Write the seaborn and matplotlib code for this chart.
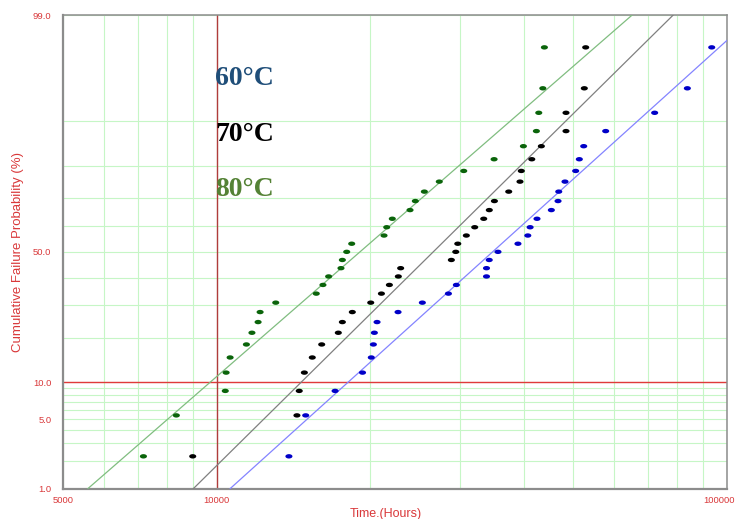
import math
import numpy as np
import pandas as pd
import matplotlib
matplotlib.use("Agg")
import matplotlib.pyplot as plt
import matplotlib.transforms as mtransforms
from matplotlib.path import Path
from matplotlib.ticker import FixedLocator, FixedFormatter, NullFormatter
import seaborn as sns

# ---------------- data ----------------
rank_pct = [2.23, 5.41, 8.60, 11.78, 14.97, 18.15, 21.34, 24.52, 27.71, 30.89,
            34.08, 37.26, 40.45, 43.63, 46.82, 50.00, 53.18, 56.37, 59.55, 62.74,
            65.92, 69.11, 72.29, 75.48, 78.66, 81.85, 85.03, 88.22, 91.40, 94.59,
            97.77]

hours_60c = [13850, 14940, 17060, 19310, 20090, 20280, 20370, 20620, 22670, 25300,
             28460, 29500, 33800, 33800, 34220, 35600, 38960, 40730, 41160, 42460,
             45300, 46690, 46840, 48180, 50560, 51400, 52430, 57900, 72230, 83720,
             93460]
hours_70c = [8970, 14360, 14510, 14850, 15390, 16060, 17310, 17630, 18440, 20040,
             21030, 21800, 22700, 22940, 28840, 29420, 29690, 30860, 32050, 33380,
             34230, 35030, 37370, 39320, 39550, 41470, 43300, 48400, 48400, 52570,
             52900]
hours_80c = [7180, 8330, 10390, 10430, 10620, 11430, 11720, 12050, 12160, 13050,
             15670, 16150, 16570, 17520, 17630, 17980, 18390, 21280, 21540, 22090,
             23930, 24510, 25530, 27310, 30500, 34980, 39930, 42340, 42800, 43590,
             43900]

fit_pct = [1.0, 99.0]
fit_60c = [10617, 113700]
fit_70c = [8993, 78550]
fit_80c = [5585, 65260]

series_names = ["60°C", "70°C", "80°C"]

y_major = [1, 5, 10, 50, 99]
y_major_labels = ["1.0", "5.0", "10.0", "50.0", "99.0"]
y_minor = [2, 3, 4, 6, 7, 8, 9, 20, 30, 40, 60, 70, 80, 90]
x_major = [5000, 10000, 100000]
x_major_labels = ["5000", "10000", "100000"]
x_minor = [6000, 7000, 8000, 9000, 20000, 30000, 40000, 50000,
           60000, 70000, 80000, 90000]

# ---------------- normal probability scale ----------------
_erf = np.vectorize(math.erf)

_a = [-3.969683028665376e+01, 2.209460984245205e+02, -2.759285104469687e+02,
      1.383577518672690e+02, -3.066479806614716e+01, 2.506628277459239e+00]
_b = [-5.447609879822406e+01, 1.615858368580409e+02, -1.556989798598866e+02,
      6.680131188771972e+01, -1.328068155288572e+01]
_c = [-7.784894002430293e-03, -3.223964580411365e-01, -2.400758277161838e+00,
      -2.549732539343734e+00, 4.374664141464968e+00, 2.938163982698783e+00]
_d = [7.784695709041462e-03, 3.224671290700398e-01, 2.445134137142996e+00,
      3.754408661907416e+00]


def _ppf(p):
    p = np.clip(np.asarray(p, dtype=float), 1e-12, 1 - 1e-12)
    plow = 0.02425
    out = np.empty_like(p)
    lo = p < plow
    hi = p > 1 - plow
    mid = ~(lo | hi)
    if np.any(lo):
        q = np.sqrt(-2 * np.log(p[lo]))
        out[lo] = (((((_c[0]*q+_c[1])*q+_c[2])*q+_c[3])*q+_c[4])*q+_c[5]) / \
                  ((((_d[0]*q+_d[1])*q+_d[2])*q+_d[3])*q+1)
    if np.any(hi):
        q = np.sqrt(-2 * np.log(1 - p[hi]))
        out[hi] = -(((((_c[0]*q+_c[1])*q+_c[2])*q+_c[3])*q+_c[4])*q+_c[5]) / \
                  ((((_d[0]*q+_d[1])*q+_d[2])*q+_d[3])*q+1)
    if np.any(mid):
        q = p[mid] - 0.5
        r = q * q
        out[mid] = (((((_a[0]*r+_a[1])*r+_a[2])*r+_a[3])*r+_a[4])*r+_a[5])*q / \
                   (((((_b[0]*r+_b[1])*r+_b[2])*r+_b[3])*r+_b[4])*r+1)
    return out


def fwd(y):
    return _ppf(np.asarray(y, dtype=float) / 100.0)


def inv(z):
    z = np.asarray(z, dtype=float)
    return 50.0 * (1.0 + _erf(z / math.sqrt(2.0)))


# ---------------- frames ----------------
pts = pd.DataFrame({
    "hours": hours_60c + hours_70c + hours_80c,
    "pct": rank_pct * 3,
    "series": [series_names[0]] * len(hours_60c) + [series_names[1]] * len(hours_70c)
              + [series_names[2]] * len(hours_80c),
})
fits = pd.DataFrame({
    "hours": fit_60c + fit_70c + fit_80c,
    "pct": fit_pct * 3,
    "series": [series_names[0]] * 2 + [series_names[1]] * 2 + [series_names[2]] * 2,
})

point_pal = {"60°C": "#0000c8", "70°C": "#000000", "80°C": "#0a640a"}
line_pal = {"60°C": "#8484ff", "70°C": "#808080", "80°C": "#80bd80"}
text_col = {"60°C": "#1f4e79", "70°C": "#000000", "80°C": "#548235"}

# ---------------- figure ----------------
sns.set_style("white")
plt.rcParams["font.family"] = ["Liberation Sans", "DejaVu Sans"]

W, H = 736, 519
fig = plt.figure(figsize=(W / 100, H / 100), dpi=100)
L, R, T, B = 63.3, 726.7, 15.0, 488.7
ax = fig.add_axes([L / W, 1 - B / H, (R - L) / W, (B - T) / H])

ax.set_xscale("log")
ax.set_yscale("function", functions=(fwd, inv))

theta = np.linspace(0, 2 * np.pi, 41)
ellipse = Path(np.column_stack([np.cos(theta), 0.62 * np.sin(theta)]), closed=True)

sns.lineplot(data=fits, x="hours", y="pct", hue="series", palette=line_pal,
             estimator=None, sort=False, linewidth=0.9, legend=False, ax=ax, zorder=3)
sns.scatterplot(data=pts, x="hours", y="pct", hue="series", palette=point_pal,
                marker=ellipse, s=26, linewidth=0, legend=False, ax=ax, zorder=5)

ax.set_xlim(5000, 100000)
ax.set_ylim(1, 99)

red = "#d9383a"
ax.xaxis.set_major_locator(FixedLocator(x_major))
ax.xaxis.set_major_formatter(FixedFormatter(x_major_labels))
ax.xaxis.set_minor_locator(FixedLocator(x_minor))
ax.xaxis.set_minor_formatter(NullFormatter())
ax.yaxis.set_major_locator(FixedLocator(y_major))
ax.yaxis.set_major_formatter(FixedFormatter(y_major_labels))
ax.yaxis.set_minor_locator(FixedLocator(y_minor))
ax.yaxis.set_minor_formatter(NullFormatter())

ax.grid(True, which="both", color="#c6f6c6", linewidth=0.8, zorder=0)
ax.set_axisbelow(True)
ax.axhline(10, color="#e03a3a", linewidth=1.0, zorder=2)
ax.axvline(10000, color="#b03c3c", linewidth=1.0, zorder=2)

ax.tick_params(axis="both", which="major", length=2.5, width=1, color="#8c8c8c",
               labelsize=6.8, labelcolor=red)
ax.tick_params(axis="y", which="major", pad=6)
ax.tick_params(axis="x", which="major", pad=3)
ax.tick_params(axis="both", which="minor", length=0)

for side, lw in (("left", 1.6), ("bottom", 1.6), ("top", 1.1), ("right", 1.1)):
    ax.spines[side].set_color("#8c8c8c")
    ax.spines[side].set_linewidth(lw)
    ax.spines[side].set_visible(True)

ax.set_xlabel("Time.(Hours)", fontsize=9, color=red)
ax.xaxis.set_label_coords((386 - L) / (R - L), -(514 - B) / (B - T))
ax.xaxis.label.set_verticalalignment("center")
ax.set_ylabel("Cumulative Failure Probability (%)", fontsize=9.5, color=red)
ax.yaxis.set_label_coords(-(L - 18) / (R - L), 0.5)
ax.yaxis.label.set_verticalalignment("center")

for name, base in zip(series_names, (85, 140.7, 196)):
    fig.text(215 / W, 1 - base / H, name, fontsize=20, fontweight="bold",
             family=["Liberation Serif", "DejaVu Serif"], color=text_col[name],
             ha="left", va="baseline")

# keep the last x tick label inside the figure (right edge near the border)
fig.canvas.draw()
last_tick = ax.xaxis.get_major_ticks()[-1]
lab = last_tick.label1
lab.set_horizontalalignment("right")
lab.set_transform(lab.get_transform() +
                  mtransforms.ScaledTranslation(8 / 100, 0, fig.dpi_scale_trans))

fig.savefig("out.png", dpi=100, facecolor="white")
